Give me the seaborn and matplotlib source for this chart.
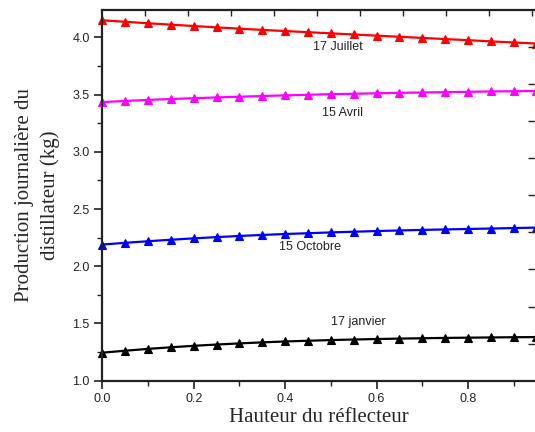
import numpy as np
import pandas as pd
import matplotlib
matplotlib.use("Agg")
import matplotlib.pyplot as plt
import seaborn as sns

hauteur = [0.00, 0.05, 0.10, 0.15, 0.20, 0.25, 0.30, 0.35, 0.40, 0.45,
           0.50, 0.55, 0.60, 0.65, 0.70, 0.75, 0.80, 0.85, 0.90, 0.95]
juillet = [4.150, 4.137, 4.124, 4.112, 4.100, 4.088, 4.077, 4.066, 4.056, 4.046,
           4.036, 4.026, 4.016, 4.006, 3.996, 3.986, 3.976, 3.966, 3.956, 3.947]
avril = [3.435, 3.445, 3.454, 3.462, 3.469, 3.476, 3.482, 3.488, 3.494, 3.499,
         3.504, 3.508, 3.512, 3.516, 3.519, 3.522, 3.525, 3.528, 3.530, 3.532]
octobre = [2.190, 2.205, 2.219, 2.232, 2.244, 2.255, 2.265, 2.274, 2.282, 2.289,
           2.296, 2.302, 2.308, 2.313, 2.318, 2.322, 2.326, 2.330, 2.334, 2.338]
janvier = [1.245, 1.262, 1.278, 1.292, 1.305, 1.316, 1.326, 1.335, 1.343, 1.349,
           1.355, 1.360, 1.364, 1.368, 1.371, 1.374, 1.376, 1.378, 1.380, 1.381]
series_names = ["17 Juillet", "15 Avril", "15 Octobre", "17 janvier"]
series_colors = ["#ff0000", "#ff00ff", "#0000ff", "#000000"]
label_pos = [(0.515, 3.915), (0.525, 3.34), (0.455, 2.17), (0.56, 1.51)]

df = pd.concat([
    pd.DataFrame({"h": hauteur, "v": vals, "serie": name})
    for name, vals in zip(series_names, [juillet, avril, octobre, janvier])
])

sns.set_style("white")
plt.rcParams["font.family"] = ["Liberation Sans", "DejaVu Sans"]

fig = plt.figure(figsize=(5.35, 4.32), dpi=100)
ax = fig.add_axes([102.3 / 535, 1 - 380.7 / 432, 1 - 102.3 / 535, (380.7 - 10) / 432])

sns.lineplot(data=df, x="h", y="v", hue="serie", hue_order=series_names,
             palette=dict(zip(series_names, series_colors)), marker="^",
             markersize=5.5, markeredgewidth=0.8, linewidth=1.6, ax=ax,
             legend=False, clip_on=False)
for line, c in zip(ax.lines, series_colors):
    line.set_markeredgecolor(c)

ax.set_xlim(0, (535 - 102.3) / 457)
ax.set_ylim(1.0, 4.24)
ax.set_xticks([0.0, 0.2, 0.4, 0.6, 0.8])
ax.set_xticks([0.1, 0.3, 0.5, 0.7, 0.9], minor=True)
ax.set_yticks([1.0, 1.5, 2.0, 2.5, 3.0, 3.5, 4.0])
ax.set_yticks([1.25, 1.75, 2.25, 2.75, 3.25, 3.75], minor=True)
ax.set_xticklabels(["0.0", "0.2", "0.4", "0.6", "0.8"])
ax.set_yticklabels(["1.0", "1.5", "2.0", "2.5", "3.0", "3.5", "4.0"])
ax.tick_params(axis="both", which="major", direction="out", length=6, width=1.2,
               labelsize=9, color="#222222", labelcolor="#222222", pad=3)
ax.tick_params(axis="both", which="minor", direction="out", length=3.5, width=1.0,
               color="#222222")
ax.tick_params(axis="x", which="both", bottom=True)
ax.tick_params(axis="y", which="both", left=True)

for side in ["left", "bottom", "top"]:
    ax.spines[side].set_visible(True)
    ax.spines[side].set_color("#222222")
    ax.spines[side].set_linewidth(1.6)
ax.spines["right"].set_visible(False)

ax.set_xlabel("Hauteur du réflecteur", family=["Liberation Serif", "DejaVu Serif"],
              fontsize=15, labelpad=2)
ax.set_ylabel("Production journalière du\ndistillateur (kg)",
              family=["Liberation Serif", "DejaVu Serif"], fontsize=15,
              linespacing=1.45, labelpad=9)

for name, (px, py) in zip(series_names, label_pos):
    ax.text(px, py, name, fontsize=9, ha="center", va="center", color="#222222")

# secondary tick axes (inward ticks on top and right)
axt = ax.twiny()
axt.set_xlim(0, (535 - 102.3) / 43)
axt.set_xticks(range(1, 11))
axt.tick_params(axis="x", direction="in", length=4, width=1.0, labeltop=False,
                color="#222222")
axr = ax.twinx()
axr.set_ylim(0, 10)
axr.set_yticks(range(1, 10))
axr.tick_params(axis="y", direction="in", length=5, width=1.0, labelright=False,
                color="#222222")
for a in (axt, axr):
    for s in a.spines.values():
        s.set_visible(False)

fig.savefig("out.png", dpi=100)
